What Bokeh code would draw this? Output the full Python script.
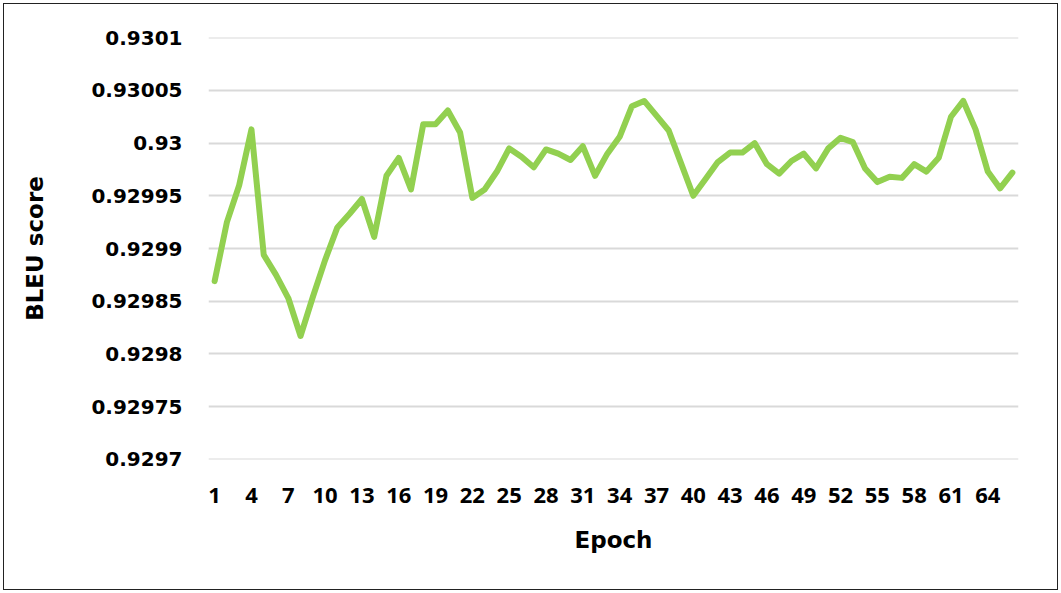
from bokeh.plotting import figure
from bokeh.models import Range1d, FixedTicker
from bokeh.embed import file_html
from bokeh.resources import INLINE

epochs = list(range(1, 67))
bleu = [
    0.929869, 0.929925, 0.929960, 0.930013, 0.929894, 0.929875, 0.929853, 0.929817,
    0.929854, 0.929889, 0.929920, 0.929933, 0.929947, 0.929911, 0.929969, 0.929986,
    0.929956, 0.930018, 0.930018, 0.930031, 0.930010, 0.929948, 0.929956, 0.929973,
    0.929995, 0.929987, 0.929977, 0.929994, 0.929990, 0.929984, 0.929997, 0.929969,
    0.929990, 0.930006, 0.930035, 0.930040, 0.930026, 0.930012, 0.929981, 0.929950,
    0.929966, 0.929982, 0.929991, 0.929991, 0.930000, 0.929980, 0.929971, 0.929983,
    0.929990, 0.929976, 0.929995, 0.930005, 0.930001, 0.929976, 0.929963, 0.929968,
    0.929967, 0.929980, 0.929973, 0.929986, 0.930025, 0.930040, 0.930013, 0.929973,
    0.929957, 0.929972,
]
x_ticks = list(range(1, 65, 3))
y_ticks = [0.9297, 0.92975, 0.9298, 0.92985, 0.9299, 0.92995, 0.93, 0.93005, 0.9301]
y_tick_labels = ["0.9297", "0.92975", "0.9298", "0.92985", "0.9299", "0.92995", "0.93", "0.93005", "0.9301"]

eps = 0.0000002
p = figure(width=1061, height=593, output_backend="svg", toolbar_location=None,
           x_range=Range1d(0.5, 66.5), y_range=Range1d(0.9297 - eps, 0.9301 + eps),
           min_border_left=208, min_border_right=43, min_border_top=37, min_border_bottom=134,
           x_axis_label="Epoch", y_axis_label="BLEU score")
p.outline_line_color = None
p.background_fill_color = "white"
p.border_fill_color = "white"

p.line(epochs, bleu, line_color="#92d050", line_width=6, line_join="round", line_cap="round")

p.xgrid.grid_line_color = None
p.ygrid.grid_line_color = "#d9d9d9"
p.ygrid.grid_line_width = 2

p.xaxis.ticker = FixedTicker(ticks=x_ticks)
p.yaxis.ticker = FixedTicker(ticks=y_ticks)
p.yaxis.major_label_overrides = {v: s for v, s in zip(y_ticks, y_tick_labels)}

for ax in (p.xaxis, p.yaxis):
    ax.axis_line_color = None
    ax.major_tick_line_color = None
    ax.minor_tick_line_color = None
    ax.major_tick_in = 0
    ax.major_tick_out = 0
    ax.minor_tick_in = 0
    ax.minor_tick_out = 0
    ax.axis_label_text_font = "DejaVu Sans"
    ax.axis_label_text_font_style = "bold"
    ax.axis_label_text_font_size = "23px"
    ax.axis_label_text_color = "#000000"
    ax.major_label_text_color = "#000000"
    ax.major_label_text_font_style = "bold"

p.yaxis.major_label_text_font = "DejaVu Sans"
p.yaxis.major_label_text_font_size = "20px"
p.yaxis.major_label_standoff = 26
p.yaxis.axis_label_standoff = 40

p.xaxis.major_label_text_font = "Open Sans"
p.xaxis.major_label_text_font_size = "22px"
p.xaxis.major_label_standoff = 28
p.xaxis.axis_label_standoff = 21

html = file_html(p, INLINE)
frame_div = ('<div style="position:fixed;left:3px;top:3px;width:1053px;height:585px;'
             'border:1.5px solid #222;pointer-events:none;z-index:100;"></div>')
i = html.rfind("</body>")
html = html[:i] + frame_div + html[i:]
open("out.html", "w").write(html)
